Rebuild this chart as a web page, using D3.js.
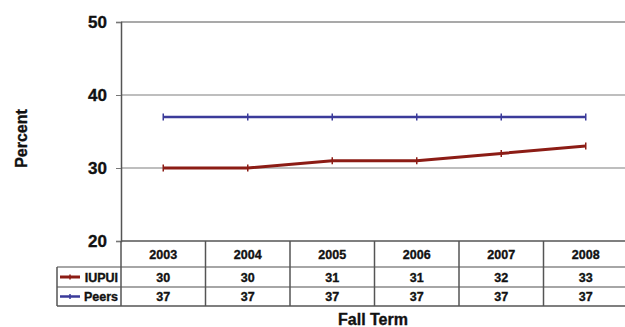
<!DOCTYPE html>
<html>
<head>
<meta charset="utf-8">
<script src="https://cdn.jsdelivr.net/npm/d3@7"></script>
<style>
  html, body { margin: 0; padding: 0; background: #fff; }
  svg { display: block; }
  text { font-family: "Liberation Sans", Arial, sans-serif; font-weight: bold; fill: #111; stroke: #111; stroke-width: 0.35px; }
</style>
</head>
<body>
<svg id="chart" width="625" height="327"></svg>
<script>
// Fall-term rates, IUPUI vs. peer institutions
const years = ["2003", "2004", "2005", "2006", "2007", "2008"];
const iupui = [30, 30, 31, 31, 32, 33];
const peers = [37, 37, 37, 37, 37, 37];
const yTicks = [20, 30, 40, 50];
const seriesNames = ["IUPUI", "Peers"];
const seriesColors = ["#8c1c15", "#3b3b9a"];

(function () {
const svg = d3.select("#chart");
const plotLeft = 121, plotRight = 628, plotTop = 22, plotBottom = 241;
const rowH = [26, 20, 19];
const legendLeft = 57;

const x = d3.scaleBand().domain(years).range([plotLeft, plotRight]);
const y = d3.scaleLinear().domain([20, 50]).range([plotBottom, plotTop]);

// horizontal gridlines
svg.append("g").selectAll("line")
  .data(yTicks.filter(t => t > 20 && t < 50))
  .join("line")
  .attr("x1", plotLeft).attr("x2", plotRight)
  .attr("y1", d => y(d)).attr("y2", d => y(d))
  .attr("stroke", "#a8a8a8").attr("stroke-width", 1.5);

// top frame line
svg.append("line")
  .attr("x1", plotLeft).attr("x2", plotRight)
  .attr("y1", y(50)).attr("y2", y(50))
  .attr("stroke", "#555").attr("stroke-width", 1.2);

// y axis
const yAxis = d3.axisLeft(y).tickValues(yTicks).tickSize(5).tickPadding(9);
const gy = svg.append("g").attr("transform", `translate(${plotLeft},0)`).call(yAxis);
gy.select(".domain").attr("stroke", "#555").attr("stroke-width", 1.5);
gy.selectAll(".tick line").attr("stroke", "#777");
gy.selectAll(".tick text")
  .attr("font-size", 17).attr("font-family", "Liberation Sans, Arial, sans-serif")
  .attr("font-weight", "bold").attr("fill", "#111");

// y axis title
svg.append("text")
  .attr("transform", `translate(27,${(plotTop + plotBottom) / 2 + 7}) rotate(-90)`)
  .attr("text-anchor", "middle").attr("font-size", 16)
  .text("Percent");

// series lines
const seriesData = [iupui, peers];
const widths = [3, 2.5];
const line = d3.line()
  .x((d, i) => x(years[i]) + x.bandwidth() / 2)
  .y(d => y(d));

seriesData.forEach((vals, s) => {
  svg.append("path")
    .datum(vals)
    .attr("d", line)
    .attr("fill", "none")
    .attr("stroke", seriesColors[s])
    .attr("stroke-width", widths[s]);
  svg.append("g").selectAll("line")
    .data(vals)
    .join("line")
    .attr("x1", (d, i) => x(years[i]) + x.bandwidth() / 2)
    .attr("x2", (d, i) => x(years[i]) + x.bandwidth() / 2)
    .attr("y1", d => y(d) - 3.5).attr("y2", d => y(d) + 3.5)
    .attr("stroke", seriesColors[s]).attr("stroke-width", 1.5);
});

// data table below the plot
const rowY = [plotBottom, plotBottom + rowH[0], plotBottom + rowH[0] + rowH[1], plotBottom + rowH[0] + rowH[1] + rowH[2]];
const tbl = svg.append("g");
const gridColor = "#555";

// horizontal rules
tbl.append("line").attr("x1", plotLeft).attr("x2", plotRight).attr("y1", rowY[0]).attr("y2", rowY[0])
  .attr("stroke", gridColor).attr("stroke-width", 1.5);
[1, 2, 3].forEach(r => {
  tbl.append("line").attr("x1", legendLeft).attr("x2", plotRight)
    .attr("y1", rowY[r]).attr("y2", rowY[r])
    .attr("stroke", r === 3 ? gridColor : "#888").attr("stroke-width", 1.3);
});
// vertical rules
tbl.append("line").attr("x1", legendLeft).attr("x2", legendLeft)
  .attr("y1", rowY[1]).attr("y2", rowY[3]).attr("stroke", gridColor).attr("stroke-width", 1.5);
tbl.append("line").attr("x1", plotLeft).attr("x2", plotLeft)
  .attr("y1", rowY[0]).attr("y2", rowY[3]).attr("stroke", gridColor).attr("stroke-width", 1.5);
years.forEach(yr => {
  const xr = x(yr) + x.bandwidth();
  tbl.append("line").attr("x1", xr).attr("x2", xr)
    .attr("y1", rowY[0]).attr("y2", rowY[3]).attr("stroke", gridColor).attr("stroke-width", 1.5);
});

// header row: years
tbl.selectAll("text.year").data(years).join("text")
  .attr("class", "year")
  .attr("x", d => x(d) + x.bandwidth() / 2)
  .attr("y", (rowY[0] + rowY[1]) / 2 + 5)
  .attr("text-anchor", "middle").attr("font-size", 12.5)
  .text(d => d);

// value rows with legend keys
seriesData.forEach((vals, s) => {
  const cy = (rowY[s + 1] + rowY[s + 2]) / 2;
  tbl.append("line").attr("x1", legendLeft + 3).attr("x2", legendLeft + 23)
    .attr("y1", cy).attr("y2", cy)
    .attr("stroke", seriesColors[s]).attr("stroke-width", widths[s]);
  tbl.append("line").attr("x1", legendLeft + 13).attr("x2", legendLeft + 13)
    .attr("y1", cy - 2.5).attr("y2", cy + 2.5)
    .attr("stroke", seriesColors[s]).attr("stroke-width", 1.5);
  tbl.append("text").attr("x", plotLeft - 3).attr("y", cy + 4.5)
    .attr("text-anchor", "end").attr("font-size", 12.5)
    .text(seriesNames[s]);
  tbl.selectAll(null).data(vals).join("text")
    .attr("x", (d, i) => x(years[i]) + x.bandwidth() / 2)
    .attr("y", cy + 4.5)
    .attr("text-anchor", "middle").attr("font-size", 12.5)
    .text(d => d);
});

// x axis title
svg.append("text")
  .attr("x", 373).attr("y", 325)
  .attr("text-anchor", "middle").attr("font-size", 16)
  .text("Fall Term");
})();
</script>
</body>
</html>
